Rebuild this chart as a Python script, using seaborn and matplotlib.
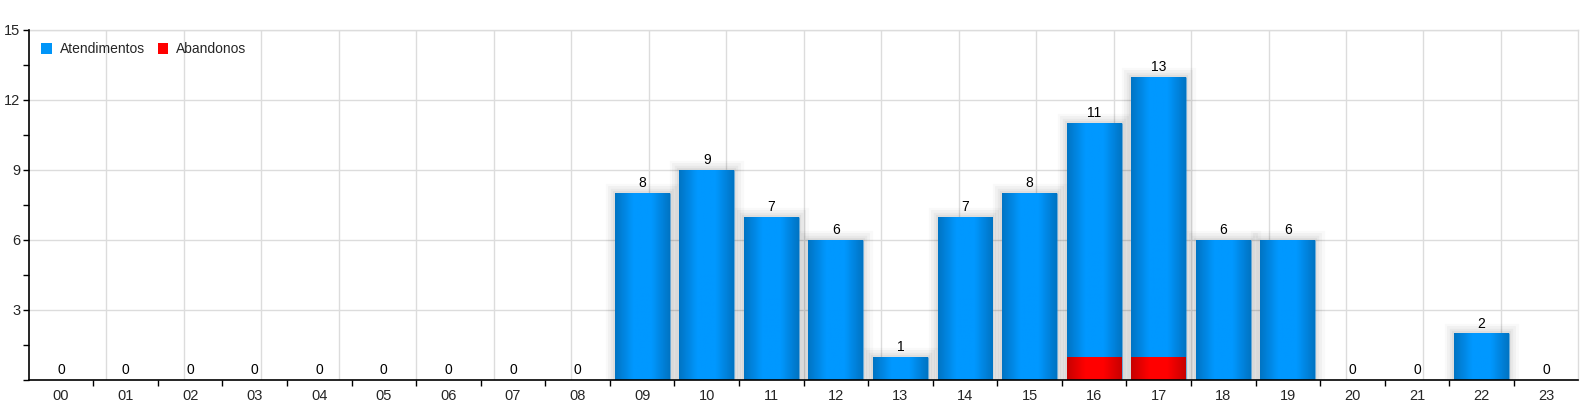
import numpy as np
import pandas as pd
import matplotlib
matplotlib.use("Agg")
import matplotlib.pyplot as plt
import matplotlib.patheffects as pe
from matplotlib.colors import LinearSegmentedColormap
from matplotlib.ticker import MultipleLocator, FixedLocator
import seaborn as sns

# hourly counts
horas = ["00", "01", "02", "03", "04", "05", "06", "07", "08", "09", "10", "11",
         "12", "13", "14", "15", "16", "17", "18", "19", "20", "21", "22", "23"]
atendimentos = [0, 0, 0, 0, 0, 0, 0, 0, 0, 8, 9, 7, 6, 1, 7, 8, 11, 13, 6, 6, 0, 0, 2, 0]
abandonos = [0, 0, 0, 0, 0, 0, 0, 0, 0, 0, 0, 0, 0, 0, 0, 0, 1, 1, 0, 0, 0, 0, 0, 0]

df = pd.DataFrame({"hora": horas, "Atendimentos": atendimentos, "Abandonos": abandonos})

sns.set_style("white")
plt.rcParams["font.family"] = ["Liberation Sans", "DejaVu Sans"]

fig = plt.figure(figsize=(15.96, 4.09), dpi=100)
ax = fig.add_axes([0.018, 0.071, 0.971, 0.856])

blue = "#0095F8"
red = "#FF0000"
# soft grey glow around the bars
shadow = [pe.withStroke(linewidth=14, foreground=(0, 0, 0, 0.025)),
          pe.withStroke(linewidth=10, foreground=(0, 0, 0, 0.03)),
          pe.withStroke(linewidth=6, foreground=(0, 0, 0, 0.035)),
          pe.withStroke(linewidth=3, foreground=(0, 0, 0, 0.04)),
          pe.Normal()]

sns.barplot(data=df, x="hora", y="Atendimentos", color=blue, width=0.85,
            saturation=1, ax=ax, label="Atendimentos", zorder=3,
            edgecolor="none", linewidth=0)
sns.barplot(data=df, x="hora", y="Abandonos", color=red, width=0.85,
            saturation=1, ax=ax, label="Abandonos", zorder=4,
            edgecolor="none", linewidth=0)

# gradients on the bars
grad_blue = LinearSegmentedColormap.from_list("gb", ["#0074C4", "#0098FF", "#0098FF", "#0074C4"])
grad_red = LinearSegmentedColormap.from_list("gr", ["#C80000", "#FF0000", "#FF0000", "#C80000"])
gx = np.linspace(0, 1, 64).reshape(1, -1)
for i, (cont, cmap) in enumerate(zip(ax.containers, [grad_blue, grad_red])):
    for p in cont.patches:
        h = p.get_height()
        if h <= 0:
            continue
        x0 = p.get_x()
        w = p.get_width()
        if i == 0:
            p.set_path_effects(shadow)
        im = ax.imshow(gx, cmap=cmap, aspect="auto", extent=[x0, x0 + w, 0, h],
                       zorder=p.get_zorder() + 0.1, interpolation="bilinear")
        im.set_clip_path(p)

# value labels from the blue series
ax.bar_label(ax.containers[0], labels=[str(v) for v in atendimentos],
             padding=2, fontsize=10, color="black", zorder=6)

ax.set_xlim(-0.5, len(horas) - 0.5)
ax.set_ylim(0, 15)
ax.set_xlabel("")
ax.set_ylabel("")

ax.yaxis.set_major_locator(FixedLocator([3, 6, 9, 12, 15]))
ax.yaxis.set_minor_locator(MultipleLocator(1.5))
ax.xaxis.set_minor_locator(FixedLocator(np.arange(0.5, len(horas) - 0.5, 1)))
ax.tick_params(axis="y", which="both", left=True, length=4, width=1,
               color="black", labelsize=10.5, pad=2)
ax.tick_params(axis="x", which="major", bottom=False, labelsize=10.5, pad=3)
ax.tick_params(axis="x", which="minor", bottom=True, length=4, width=1, color="black")

ax.grid(axis="y", which="major", color="#DCDCDC", linewidth=1, zorder=0)
ax.set_axisbelow(True)
for k in range(1, 20):
    ax.axvline(-0.5 + k * len(horas) / 20, color="#DCDCDC", linewidth=1, zorder=0)

for s in ["left", "bottom"]:
    ax.spines[s].set_color("black")
    ax.spines[s].set_linewidth(1.2)
    ax.spines[s].set_zorder(7)
for s in ["top", "right"]:
    ax.spines[s].set_color("#DCDCDC")
    ax.spines[s].set_linewidth(1)

leg = ax.legend(loc="upper left", frameon=False, fontsize=10, handlelength=0.75,
                handleheight=0.75, handletextpad=0.6, ncol=2, columnspacing=0.9,
                bbox_to_anchor=(0.0, 1.0), borderaxespad=0.5)
for hnd in leg.legend_handles:
    hnd.set_path_effects([])

fig.savefig("out.png", dpi=100)
